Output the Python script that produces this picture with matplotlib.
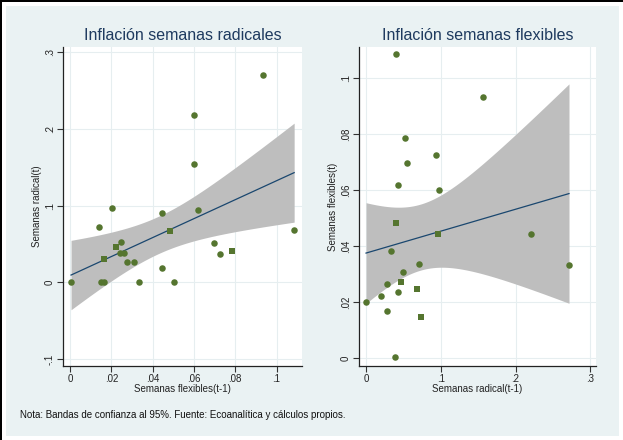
import numpy as np
import matplotlib
matplotlib.use('Agg')
import matplotlib.pyplot as plt
from matplotlib.patches import Rectangle

plt.rcParams['font.family'] = ['Liberation Sans', 'DejaVu Sans']

# Panel 1: radical(t) vs flexibles(t-1)
flex_lag = [0.0935, 0.0602, 0.0602, 0.0618, 0.0444, 0.0202, 0.0140, 0.0484, 0.1085,
            0.0697, 0.0726, 0.0786, 0.0247, 0.0223, 0.0240, 0.0260, 0.0166, 0.0274,
            0.0311, 0.0444, 0.0005, 0.0149, 0.0165, 0.0336, 0.0505]
rad_t = [0.270, 0.218, 0.155, 0.095, 0.091, 0.097, 0.072, 0.067, 0.068,
         0.051, 0.037, 0.041, 0.053, 0.046, 0.038, 0.039, 0.031, 0.027,
         0.027, 0.019, 0.000, 0.000, 0.000, 0.000, 0.000]
sq_left = [7, 11, 13, 16]

# Panel 2: flexibles(t) vs radical(t-1)
rad_lag = [0.0397, 0.1570, 0.0521, 0.0932, 0.0544, 0.0432, 0.0980, 0.0400, 0.0967,
           0.2202, 0.0330, 0.0709, 0.2714, 0.0499, 0.0468, 0.0276, 0.0687, 0.0432,
           0.0196, 0.0000, 0.0276, 0.0735, 0.0387]
flex_t = [0.1087, 0.0934, 0.0787, 0.0726, 0.0699, 0.0619, 0.0601, 0.0482, 0.0444,
          0.0444, 0.0383, 0.0337, 0.0332, 0.0309, 0.0274, 0.0264, 0.0246, 0.0236,
          0.0222, 0.0202, 0.0168, 0.0149, 0.0004]
sq_right = [7, 8, 14, 16, 21]

navy = '#1a476f'
green = '#55752f'
band = '#bebebe'
bg = '#eaf2f3'
title_col = '#1e3a5f'


def lfitci(ax, x, y):
    # linear fit with 95% confidence band for the mean
    x = np.asarray(x)
    y = np.asarray(y)
    n = len(x)
    b, a = np.polyfit(x, y, 1)
    resid = y - (a + b * x)
    s = np.sqrt(np.sum(resid ** 2) / (n - 2))
    sxx = np.sum((x - x.mean()) ** 2)
    xs = np.linspace(x.min(), x.max(), 100)
    fit = a + b * xs
    se = s * np.sqrt(1.0 / n + (xs - x.mean()) ** 2 / sxx)
    t = 2.07
    ax.fill_between(xs, fit - t * se, fit + t * se, color=band, lw=0, zorder=1)
    ax.plot(xs, fit, color=navy, lw=0.9, zorder=2)


def scatter(ax, x, y, sq):
    x = np.asarray(x)
    y = np.asarray(y)
    m = np.zeros(len(x), bool)
    m[sq] = True
    ax.scatter(x[~m], y[~m], s=22, marker='o', color=green, lw=0, zorder=3)
    ax.scatter(x[m], y[m], s=20, marker='s', color=green, lw=0, zorder=3)


def style(ax, title, xlabel, ylabel, xt, xtl, yt, ytl, xlim, ylim):
    ax.set_facecolor('white')
    ax.set_xlim(*xlim)
    ax.set_ylim(*ylim)
    ax.set_xticks(xt)
    ax.set_xticklabels(xtl)
    ax.set_yticks(yt)
    ax.set_yticklabels(ytl, rotation=90, va='center')
    ax.grid(True, color='#e6eef0', lw=0.8, zorder=0)
    ax.set_axisbelow(True)
    for side in ['top', 'right']:
        ax.spines[side].set_visible(False)
    for side in ['left', 'bottom']:
        ax.spines[side].set_color('#222222')
        ax.spines[side].set_linewidth(0.9)
    ax.tick_params(direction='out', length=4, width=0.8, color='#333333',
                   labelsize=7, pad=2, labelcolor='#222222')
    ax.set_title(title, fontsize=11.5, color=title_col, pad=5)
    ax.set_xlabel(xlabel, fontsize=7, labelpad=0, color='#222222')
    ax.set_ylabel(ylabel, fontsize=7, labelpad=2, color='#222222')


fig = plt.figure(figsize=(6.23, 4.40), dpi=100, facecolor='white')
fig.patches.append(Rectangle((6 / 623, 4 / 440), 613 / 623, 430 / 440,
                             transform=fig.transFigure, facecolor=bg, lw=0, zorder=-2))
fig.patches.append(Rectangle((0, 438 / 440), 1, 2 / 440,
                             transform=fig.transFigure, facecolor='black', lw=0))
fig.patches.append(Rectangle((0, 0), 2 / 623, 1,
                             transform=fig.transFigure, facecolor='black', lw=0))

ax1 = fig.add_axes([63 / 623, 74 / 440, 239 / 623, 319 / 440])
ax2 = fig.add_axes([359 / 623, 74 / 440, 237 / 623, 319 / 440])

lfitci(ax1, flex_lag, rad_t)
scatter(ax1, flex_lag, rad_t, sq_left)
style(ax1, 'Inflación semanas radicales', 'Semanas flexibles(t-1)', 'Semanas radical(t)',
      [0, 0.02, 0.04, 0.06, 0.08, 0.1], ['0', '.02', '.04', '.06', '.08', '.1'],
      [-0.1, 0, 0.1, 0.2, 0.3], ['-.1', '0', '.1', '.2', '.3'],
      (-0.0034, 0.1123), (-0.1088, 0.3068))

lfitci(ax2, rad_lag, flex_t)
scatter(ax2, rad_lag, flex_t, sq_right)
style(ax2, 'Inflación semanas flexibles', 'Semanas radical(t-1)', 'Semanas flexibles(t)',
      [0, 0.1, 0.2, 0.3], ['0', '.1', '.2', '.3'],
      [0, 0.02, 0.04, 0.06, 0.08, 0.1], ['0', '.02', '.04', '.06', '.08', '.1'],
      (-0.0094, 0.3075), (-0.00275, 0.1112))

fig.text(20 / 623, 1 - 415 / 440, 'Nota: Bandas de confianza al 95%. Fuente: Ecoanalítica y cálculos propios.',
         fontsize=7, va='center', ha='left', color='#111111')

plt.savefig('out.png', dpi=100, facecolor=fig.get_facecolor())
